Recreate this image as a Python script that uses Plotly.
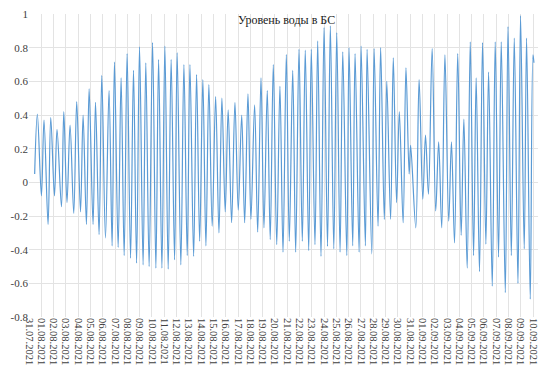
import plotly.graph_objects as go
import pandas as pd

# Tide extremes: time in days since 31.07.2021 00:00, level in m
days = [0.46, 0.68, 1.01, 1.22, 1.55, 1.77, 2.07, 2.28, 2.64, 2.83, 3.09, 3.34, 3.64, 3.88,
        4.19, 4.40, 4.67, 4.89, 5.21, 5.41, 5.70, 5.92, 6.22, 6.51, 6.76, 6.95, 7.25, 7.49,
        7.74, 7.98, 8.26, 8.50, 8.75, 8.99, 9.28, 9.50, 9.77, 10.05, 10.32, 10.54, 10.81,
        11.05, 11.32, 11.56, 11.84, 12.05, 12.35, 12.60, 12.87, 13.09, 13.39, 13.63, 13.88,
        14.14, 14.39, 14.63, 14.90, 15.18, 15.45, 15.69, 15.96, 16.20, 16.48, 16.75, 17.02,
        17.30, 17.54, 17.81, 18.05, 18.35, 18.60, 18.87, 19.11, 19.38, 19.62, 19.87, 20.15,
        20.41, 20.66, 20.93, 21.17, 21.45, 21.69, 21.96, 22.23, 22.47, 22.75, 22.96, 23.26,
        23.48, 23.75, 24.00, 24.28, 24.51, 24.79, 25.03, 25.30, 25.52, 25.85, 26.03, 26.33,
        26.52, 26.85, 27.01, 27.36, 27.50, 27.88, 28.07, 28.39, 28.60, 28.90, 29.10, 29.41,
        29.63, 29.90, 30.12, 30.43, 30.66, 30.92, 31.04, 31.46, 31.73, 32.03, 32.25, 32.49,
        32.79, 33.08, 33.32, 33.57, 33.83, 34.14, 34.36, 34.61, 34.87, 35.15, 35.37, 35.64,
        35.89, 36.16, 36.37, 36.64, 36.89, 37.16, 37.38, 37.68, 37.92, 38.19, 38.41, 38.74,
        38.96, 39.23, 39.47, 39.77, 39.98, 40.28, 40.47, 40.77, 40.99, 41.07]

level = [0.05, 0.405, -0.08, 0.37, -0.25, 0.385, -0.08, 0.315, -0.145, 0.42, -0.12, 0.34,
         -0.185, 0.48, -0.175, 0.40, -0.25, 0.555, -0.25, 0.475, -0.31, 0.635, -0.33, 0.545,
         -0.377, 0.715, -0.386, 0.62, -0.435, 0.765, -0.45, 0.665, -0.48, 0.805, -0.49, 0.71,
         -0.50, 0.83, -0.51, 0.73, -0.51, 0.81, -0.515, 0.73, -0.46, 0.77, -0.49, 0.70,
         -0.435, 0.70, -0.44, 0.64, -0.35, 0.61, -0.377, 0.58, -0.26, 0.51, -0.30, 0.50,
         -0.175, 0.43, -0.24, 0.475, -0.165, 0.40, -0.24, 0.525, -0.22, 0.46, -0.295, 0.62,
         -0.27, 0.545, -0.34, 0.70, -0.37, 0.57, -0.415, 0.76, -0.35, 0.665, -0.415, 0.79,
         -0.35, 0.785, -0.405, 0.79, -0.37, 0.84, -0.44, 0.92, -0.38, 0.93, -0.395, 0.89,
         -0.415, 0.775, -0.435, 0.80, -0.377, 0.765, -0.415, 0.81, -0.377, 0.79, -0.425, 0.795,
         -0.26, 0.80, -0.22, 0.60, -0.22, 0.74, -0.12, 0.42, -0.24, 0.68, 0.05, 0.22, -0.27,
         0.61, -0.10, 0.28, -0.07, 0.795, -0.17, 0.24, -0.27, 0.757, -0.23, 0.24, -0.36, 0.765,
         -0.315, 0.375, -0.51, 0.835, -0.435, 0.62, -0.53, 0.83, -0.367, 0.655, -0.617, 0.835,
         -0.444, 0.835, -0.655, 0.925, -0.435, 0.857, -0.60, 0.99, -0.395, 0.857, -0.694,
         0.757, 0.71]

tick_days = list(range(42))
tick_labels = [d.strftime("%d.%m.%Y") for d in pd.date_range("2021-07-31", "2021-09-10")]
y_ticks = [-0.8, -0.6, -0.4, -0.2, 0, 0.2, 0.4, 0.6, 0.8, 1]
y_labels = ["-0.8", "-0.6", "-0.4", "-0.2", "0", "0.2", "0.4", "0.6", "0.8", "1"]

title_text = "Уровень воды в БС"

fig = go.Figure()
fig.add_trace(go.Scatter(x=days, y=level, mode="lines",
                         line=dict(color="#5b9bd5", width=1.2, shape="spline", smoothing=1.0),
                         hoverinfo="skip"))

font_family = "Liberation Serif, Times New Roman, serif"
fig.update_layout(
    width=550, height=373,
    margin=dict(l=29, r=12, t=8, b=53),
    paper_bgcolor="white", plot_bgcolor="white",
    showlegend=False,
    font=dict(family=font_family, color="#404040"),
    xaxis=dict(range=[0, 41.4], tickmode="array", tickvals=tick_days, ticktext=tick_labels,
               tickangle=90, tickfont=dict(size=10.5, family=font_family, color="#404040"),
               showgrid=True, gridcolor="#e3e3e3", gridwidth=1, zeroline=False,
               ticks="", showline=False),
    yaxis=dict(range=[-0.8, 1], tickmode="array", tickvals=y_ticks, ticktext=y_labels,
               tickfont=dict(size=11, family=font_family, color="#404040"),
               showgrid=True, gridcolor="#e3e3e3", gridwidth=1, zeroline=False,
               ticks="", showline=False),
    annotations=[dict(text=title_text, x=0.505, y=0.981, xref="paper", yref="paper",
                      xanchor="center", yanchor="middle", showarrow=False,
                      font=dict(size=12, family=font_family, color="#1a1a1a"))],
)

fig.write_html("out.html")
